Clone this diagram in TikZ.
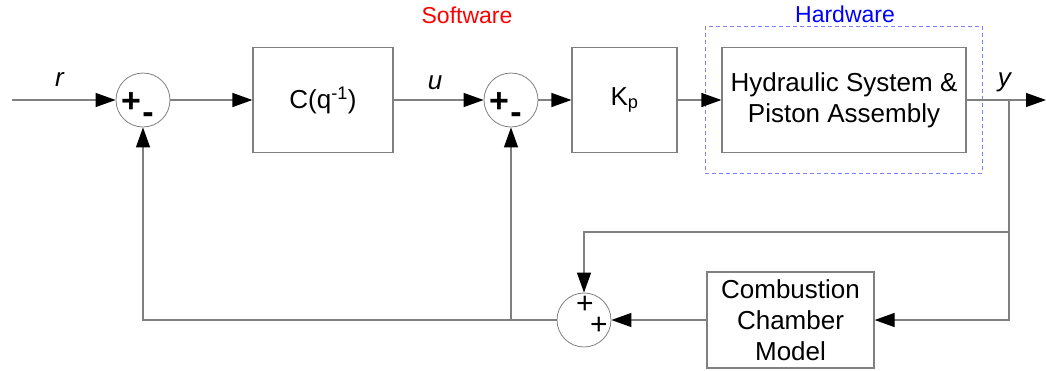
\documentclass[tikz,border=0pt]{standalone}
\usepackage{fontspec}
\setmainfont{Liberation Sans}
\usetikzlibrary{positioning, arrows.meta, fit, calc}
\definecolor{wiregrey}{HTML}{808080}
\definecolor{hwblue}{HTML}{8080FF}
\definecolor{swred}{HTML}{FF0000}
\definecolor{hwtext}{HTML}{0000FF}

\begin{document}
\begin{tikzpicture}[
  x=1pt, y=-1pt,
  font=\fontsize{26}{31}\selectfont,
  blockbox/.style={
    draw=wiregrey,
    line width=1.2pt,
    rectangle,
    align=center,
    inner sep=0pt,
    text=black
  },
  sumnode/.style={
    draw=wiregrey,
    line width=0.8pt,
    circle,
    minimum size=54pt,
    inner sep=0pt
  },
  wire/.style={draw=wiregrey, line width=1.2pt},
  sig/.style={wire, -{Triangle[length=20pt, width=14pt, color=black]}},
  tag/.style={font=\fontsize{23}{27}\selectfont},
  sgn/.style={font=\fontsize{34}{40}\selectfont\bfseries, inner sep=0pt},
  sgnsmall/.style={font=\fontsize{30}{36}\selectfont, inner sep=0pt}
]
  \useasboundingbox (0,0) rectangle (1046,370);

  % --- Forward path ---
  \coordinate (in)  at (12,100);
  \node[sumnode] (sum1) at (143,100) {};
  \node[blockbox, minimum width=140pt, minimum height=105pt] (ctrl) at (323,100) {C(q\textsuperscript{-1})};
  \node[sumnode] (sum2) at (511,100) {};
  \node[blockbox, minimum width=105pt, minimum height=105pt] (kp) at (624.5,100) {K\textsubscript{p}};
  \node[blockbox, minimum width=244pt, minimum height=105pt] (hyd) at (844,100) {Hydraulic System \&\\Piston Assembly};
  \coordinate (yb)  at (1009,100);
  \coordinate (out) at (1046,100);

  % signs in the comparators
  \node[sgn] (p1) at (131,103) {+};
  \node[sgn] (m1) at (148,118) {-};
  \node[sgn] (p2) at (499,103) {+};
  \node[sgn] (m2) at (516,118) {-};

  % --- Feedback path ---
  \node[blockbox, minimum width=167pt, minimum height=96pt] (cc) at (790.5,320) {Combustion\\Chamber\\Model};
  \node[sumnode] (sum3) at (584,320) {};
  \node[sgnsmall] (p3) at (585,305) {+};
  \node[sgnsmall] (p4) at (599,326) {+};
  \coordinate (tap) at (1009,232);

  % Hardware frame
  \node[draw=hwblue, line width=0.9pt, dash pattern=on 4pt off 3pt, inner xsep=16pt, inner ysep=20pt, fit=(hyd)] (hw) {};

  % --- Labels ---
  \node (r)  at (60,80)  {\textit{r}};
  \node (u)  at (435,83) {\textit{u}};
  \node (y)  at (1005,82) {\textit{y}};
  \node[tag, text=swred]  (sw)  at (467,15) {Software};
  \node[tag, text=hwtext] (hwl) at (845,14) {Hardware};

  % Arrows along the forward path
  \draw[sig] (in) -- (sum1.west);
  \foreach \a/\b in {sum1/ctrl, ctrl/sum2, sum2/kp, kp/hyd}
    \draw[sig] (\a.east) -- (\b.west);
  \draw[sig] (hyd.east) -- (out);

  % Arrows along the feedback path
  \draw[sig] (yb) |- (cc.east);
  \draw[sig] (tap) -| (sum3.north);
  \draw[sig] (cc.west) -- (sum3.east);
  \draw[sig] (sum3.west) -| (sum1.south);
  \draw[sig] (sum3.west -| sum2.south) -- (sum2.south);

\end{tikzpicture}
\end{document}
